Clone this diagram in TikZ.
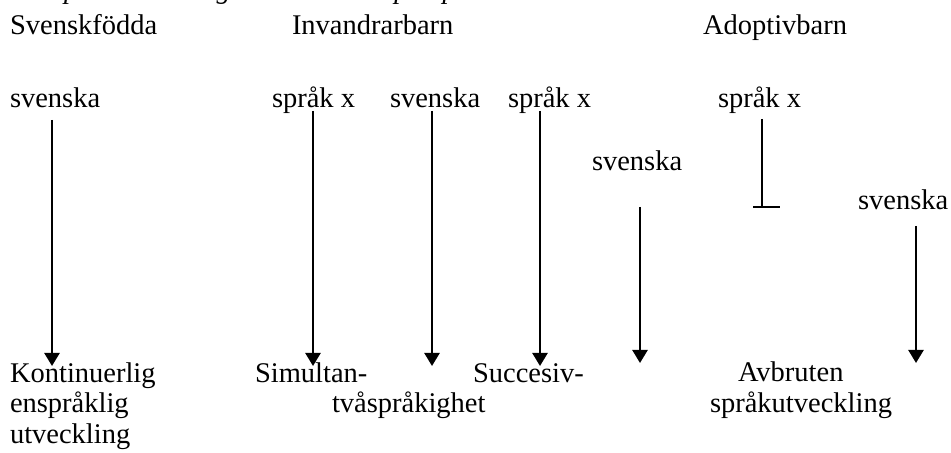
\documentclass[tikz,border=0pt]{standalone}
\usepackage{fontspec}
\setmainfont{Liberation Serif}
\usetikzlibrary{arrows.meta}
\begin{document}
\begin{tikzpicture}[x=1bp,y=-1bp,
  lbl/.style={anchor=base west,inner sep=0pt,outer sep=0pt,font=\fontsize{28.5bp}{30bp}\selectfont},
  arr/.style={line width=2.4bp,-{Triangle[width=15bp,length=13bp]}},
  stem/.style={line width=2.2bp}]
\useasboundingbox (0,0) rectangle (951,453);

% caption line, mostly above the top edge
\begin{scope}
  \clip (0,0) rectangle (951,453);
  \node[lbl,font=\fontsize{28bp}{30bp}\selectfont\itshape] (caption) at (10,-1)
    {Tre språkutvecklingar ur tre olika perspektiv};
\end{scope}

% group headings
\node[lbl] (hsv)  at (10,35)  {Svenskfödda};
\node[lbl] (hinv) at (292,35) {Invandrarbarn};
\node[lbl] (hadp) at (703,35) {Adoptivbarn};

% starting languages
\node[lbl] (sv1) at (10,108)  {svenska};
\node[lbl] (x1)  at (272,108) {språk x};
\node[lbl] (sv2) at (390,108) {svenska};
\node[lbl] (x2)  at (508,108) {språk x};
\node[lbl] (sv3) at (592,171) {svenska};
\node[lbl] (x3)  at (718,108) {språk x};
\node[lbl] (sv4) at (858,210) {svenska};

% outcomes
\node[lbl] (kont)  at (10,383)  {Kontinuerlig};
\node[lbl] (ensp)  at (10,412)  {enspråklig};
\node[lbl] (utv)   at (10,443)  {utveckling};
\node[lbl] (simu)  at (255,383) {Simultan-};
\node[lbl] (tvasp) at (332,412) {tvåspråkighet};
\node[lbl] (succ)  at (473,383) {Succesiv-};
\node[lbl] (avbr)  at (738,382) {Avbruten};
\node[lbl] (sputv) at (710,412) {språkutveckling};

% arrow end points
\coordinate (a1s) at (52,120);  \coordinate (a1e) at (52,366);
\coordinate (a2s) at (313,111); \coordinate (a2e) at (313,366);
\coordinate (a3s) at (432,111); \coordinate (a3e) at (432,366);
\coordinate (a4s) at (540,111); \coordinate (a4e) at (540,366);
\coordinate (a5s) at (640,207); \coordinate (a5e) at (640,363);
\coordinate (a7s) at (916,226); \coordinate (a7e) at (916,363);
\coordinate (ts)  at (762,119); \coordinate (te)  at (762,207);
\coordinate (tl)  at (753,207); \coordinate (tr)  at (780,207);

\draw[arr] (a1s) -- (a1e);
\draw[arr] (a2s) -- (a2e);
\draw[arr] (a3s) -- (a3e);
\draw[arr] (a4s) -- (a4e);
\draw[arr] (a5s) -- (a5e);
\draw[arr] (a7s) -- (a7e);

% interrupted development
\draw[stem] (ts) -- (te);
\draw[stem] (tl) -- (tr);
\end{tikzpicture}
\end{document}
